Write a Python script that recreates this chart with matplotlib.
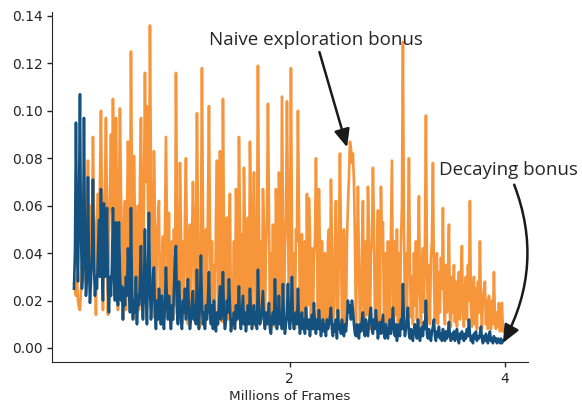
import numpy as np
import matplotlib.pyplot as plt

# per-step bonus, 430 logged points over 4M frames
naive_bonus = [
    0.027, 0.025, 0.022, 0.030, 0.020, 0.017, 0.016, 0.024, 0.035, 0.028,
    0.045, 0.038, 0.055, 0.042, 0.079, 0.050, 0.036, 0.060, 0.048, 0.089,
    0.058, 0.040, 0.014, 0.052, 0.065, 0.045, 0.070, 0.100, 0.062, 0.016,
    0.055, 0.068, 0.097, 0.060, 0.014, 0.048, 0.066, 0.090, 0.058, 0.105,
    0.070, 0.050, 0.097, 0.062, 0.016, 0.058, 0.101, 0.066, 0.045, 0.012,
    0.050, 0.062, 0.016, 0.055, 0.087, 0.060, 0.035, 0.125, 0.066, 0.013,
    0.081, 0.052, 0.012, 0.045, 0.060, 0.016, 0.070, 0.097, 0.055, 0.013,
    0.065, 0.116, 0.070, 0.102, 0.060, 0.035, 0.136, 0.072, 0.050, 0.013,
    0.083, 0.055, 0.012, 0.045, 0.052, 0.062, 0.018, 0.010, 0.038, 0.047,
    0.012, 0.050, 0.089, 0.055, 0.018, 0.057, 0.014, 0.010, 0.045, 0.012,
    0.050, 0.018, 0.116, 0.060, 0.016, 0.011, 0.078, 0.050, 0.010, 0.045,
    0.014, 0.055, 0.080, 0.040, 0.010, 0.042, 0.052, 0.012, 0.045, 0.070,
    0.050, 0.011, 0.042, 0.099, 0.058, 0.014, 0.009, 0.048, 0.118, 0.055,
    0.014, 0.009, 0.050, 0.018, 0.060, 0.102, 0.052, 0.011, 0.045, 0.010,
    0.035, 0.011, 0.055, 0.079, 0.040, 0.014, 0.083, 0.058, 0.011, 0.105,
    0.050, 0.009, 0.035, 0.055, 0.012, 0.048, 0.065, 0.014, 0.008, 0.018,
    0.045, 0.010, 0.067, 0.050, 0.018, 0.089, 0.055, 0.011, 0.048, 0.014,
    0.076, 0.050, 0.009, 0.045, 0.055, 0.014, 0.087, 0.058, 0.010, 0.040,
    0.074, 0.035, 0.009, 0.040, 0.119, 0.055, 0.010, 0.045, 0.014, 0.067,
    0.050, 0.011, 0.042, 0.055, 0.103, 0.060, 0.009, 0.040, 0.012, 0.052,
    0.018, 0.009, 0.067, 0.045, 0.011, 0.074, 0.050, 0.014, 0.106, 0.055,
    0.009, 0.042, 0.055, 0.104, 0.060, 0.012, 0.045, 0.118, 0.050, 0.010,
    0.040, 0.008, 0.050, 0.045, 0.100, 0.058, 0.009, 0.040, 0.048, 0.008,
    0.035, 0.045, 0.009, 0.065, 0.018, 0.063, 0.048, 0.009, 0.042, 0.008,
    0.038, 0.045, 0.080, 0.050, 0.011, 0.067, 0.040, 0.008, 0.045, 0.010,
    0.008, 0.040, 0.014, 0.009, 0.045, 0.050, 0.012, 0.071, 0.045, 0.008,
    0.018, 0.042, 0.062, 0.014, 0.008, 0.048, 0.082, 0.045, 0.010, 0.008,
    0.050, 0.018, 0.009, 0.045, 0.060, 0.072, 0.087, 0.084, 0.078, 0.082,
    0.070, 0.045, 0.009, 0.040, 0.068, 0.035, 0.010, 0.008, 0.042, 0.062,
    0.018, 0.008, 0.045, 0.014, 0.068, 0.050, 0.008, 0.040, 0.045, 0.076,
    0.050, 0.011, 0.008, 0.040, 0.058, 0.018, 0.008, 0.068, 0.045, 0.053,
    0.012, 0.008, 0.040, 0.010, 0.045, 0.007, 0.018, 0.048, 0.079, 0.018,
    0.009, 0.045, 0.014, 0.050, 0.008, 0.040, 0.011, 0.045, 0.060, 0.129,
    0.050, 0.015, 0.040, 0.011, 0.045, 0.080, 0.035, 0.013, 0.030, 0.010,
    0.040, 0.018, 0.045, 0.012, 0.038, 0.064, 0.025, 0.010, 0.030, 0.042,
    0.015, 0.045, 0.098, 0.035, 0.012, 0.035, 0.010, 0.038, 0.045, 0.078,
    0.030, 0.011, 0.030, 0.040, 0.010, 0.032, 0.015, 0.038, 0.025, 0.059,
    0.020, 0.010, 0.035, 0.015, 0.030, 0.052, 0.013, 0.009, 0.030, 0.015,
    0.035, 0.011, 0.028, 0.009, 0.025, 0.032, 0.012, 0.030, 0.043, 0.015,
    0.009, 0.025, 0.030, 0.012, 0.035, 0.020, 0.062, 0.018, 0.009, 0.022,
    0.030, 0.010, 0.025, 0.008, 0.028, 0.015, 0.045, 0.018, 0.008, 0.020,
    0.025, 0.028, 0.010, 0.020, 0.008, 0.022, 0.012, 0.008, 0.020, 0.010,
    0.032, 0.012, 0.008, 0.015, 0.009, 0.019, 0.007, 0.014, 0.019, 0.007,
]
decay_bonus = [
    0.025, 0.040, 0.095, 0.045, 0.028, 0.060, 0.107, 0.050, 0.025, 0.035,
    0.097, 0.045, 0.022, 0.030, 0.072, 0.035, 0.019, 0.028, 0.040, 0.071,
    0.035, 0.022, 0.030, 0.025, 0.040, 0.054, 0.030, 0.067, 0.035, 0.020,
    0.061, 0.030, 0.040, 0.059, 0.025, 0.015, 0.030, 0.022, 0.035, 0.059,
    0.030, 0.020, 0.053, 0.028, 0.018, 0.053, 0.032, 0.020, 0.026, 0.012,
    0.025, 0.018, 0.030, 0.022, 0.042, 0.028, 0.015, 0.059, 0.025, 0.012,
    0.020, 0.015, 0.030, 0.010, 0.022, 0.018, 0.028, 0.043, 0.020, 0.012,
    0.025, 0.050, 0.022, 0.010, 0.030, 0.057, 0.025, 0.012, 0.020, 0.031,
    0.034, 0.015, 0.008, 0.020, 0.012, 0.025, 0.018, 0.010, 0.022, 0.015,
    0.008, 0.018, 0.034, 0.020, 0.012, 0.022, 0.015, 0.008, 0.018, 0.012,
    0.025, 0.038, 0.043, 0.015, 0.010, 0.028, 0.018, 0.012, 0.008, 0.020,
    0.015, 0.025, 0.012, 0.018, 0.029, 0.015, 0.008, 0.012, 0.020, 0.024,
    0.012, 0.018, 0.010, 0.033, 0.015, 0.008, 0.020, 0.039, 0.018, 0.010,
    0.015, 0.008, 0.018, 0.012, 0.020, 0.032, 0.015, 0.010, 0.018, 0.008,
    0.020, 0.012, 0.007, 0.015, 0.010, 0.018, 0.026, 0.012, 0.015, 0.032,
    0.015, 0.008, 0.012, 0.020, 0.015, 0.029, 0.018, 0.007, 0.012, 0.010,
    0.015, 0.008, 0.018, 0.012, 0.015, 0.026, 0.012, 0.008, 0.015, 0.022,
    0.010, 0.015, 0.007, 0.012, 0.018, 0.010, 0.025, 0.015, 0.008, 0.012,
    0.018, 0.010, 0.015, 0.008, 0.033, 0.015, 0.010, 0.012, 0.018, 0.024,
    0.012, 0.008, 0.015, 0.010, 0.012, 0.019, 0.008, 0.006, 0.012, 0.015,
    0.010, 0.029, 0.015, 0.008, 0.012, 0.022, 0.010, 0.015, 0.008, 0.027,
    0.012, 0.006, 0.010, 0.015, 0.027, 0.012, 0.008, 0.015, 0.030, 0.012,
    0.008, 0.012, 0.015, 0.010, 0.025, 0.012, 0.006, 0.010, 0.015, 0.008,
    0.012, 0.006, 0.017, 0.010, 0.008, 0.012, 0.005, 0.010, 0.014, 0.008,
    0.019, 0.010, 0.006, 0.012, 0.008, 0.016, 0.010, 0.005, 0.008, 0.012,
    0.007, 0.010, 0.005, 0.012, 0.008, 0.010, 0.013, 0.017, 0.008, 0.005,
    0.010, 0.007, 0.012, 0.004, 0.016, 0.008, 0.010, 0.006, 0.012, 0.008,
    0.005, 0.010, 0.007, 0.012, 0.020, 0.015, 0.018, 0.012, 0.020, 0.016,
    0.010, 0.006, 0.005, 0.010, 0.008, 0.004, 0.010, 0.007, 0.012, 0.015,
    0.007, 0.005, 0.012, 0.008, 0.005, 0.010, 0.014, 0.017, 0.008, 0.006,
    0.012, 0.008, 0.016, 0.010, 0.004, 0.008, 0.011, 0.006, 0.010, 0.014,
    0.006, 0.004, 0.010, 0.007, 0.004, 0.008, 0.012, 0.006, 0.010, 0.017,
    0.008, 0.005, 0.010, 0.003, 0.007, 0.010, 0.005, 0.012, 0.008, 0.027,
    0.010, 0.005, 0.008, 0.012, 0.017, 0.006, 0.004, 0.008, 0.005, 0.003,
    0.008, 0.010, 0.006, 0.004, 0.012, 0.007, 0.003, 0.006, 0.009, 0.005,
    0.011, 0.008, 0.020, 0.006, 0.004, 0.008, 0.005, 0.003, 0.007, 0.009,
    0.012, 0.005, 0.003, 0.007, 0.005, 0.009, 0.004, 0.006, 0.003, 0.008,
    0.005, 0.003, 0.007, 0.004, 0.006, 0.011, 0.005, 0.003, 0.006, 0.004,
    0.007, 0.003, 0.005, 0.008, 0.004, 0.002, 0.006, 0.004, 0.007, 0.005,
    0.003, 0.006, 0.004, 0.008, 0.005, 0.012, 0.006, 0.003, 0.005, 0.002,
    0.006, 0.004, 0.007, 0.003, 0.005, 0.004, 0.006, 0.009, 0.004, 0.002,
    0.005, 0.003, 0.006, 0.004, 0.002, 0.005, 0.007, 0.003, 0.004, 0.002,
    0.005, 0.003, 0.004, 0.002, 0.004, 0.003, 0.002, 0.004, 0.002, 0.003,
]
frames = np.linspace(0, 3.98, len(naive_bonus))

orange = '#f7953b'
blue = '#15517e'
dark = '#262626'

fig = plt.figure(figsize=(5.82, 4.04), dpi=100)
ax = fig.add_axes([0.0893, 0.104, 0.818, 0.866])

ax.plot(frames, naive_bonus, color=orange, lw=1.9)
ax.plot(frames, decay_bonus, color=blue, lw=1.9)

ax.set_xlim(-0.204, 4.213)
ax.set_ylim(-0.0059, 0.1416)
ax.set_xticks([2, 4])
yt = np.arange(0, 0.141, 0.02)
ax.set_yticks(yt)
ax.set_yticklabels(['%.2f' % v for v in yt])
ax.tick_params(colors=dark, labelsize=10, length=3.5, width=1, pad=3.4)
ax.set_xlabel('Millions of Frames', color=dark, fontsize=9.7, labelpad=3.5)

for side in ('top', 'right'):
    ax.spines[side].set_visible(False)
for side in ('left', 'bottom'):
    ax.spines[side].set_color(dark)

head = '-|>,head_length=0.8,head_width=0.35'
ax.annotate('Naive exploration bonus', xy=(2.534, 0.0846), xytext=(2.246, 0.1297),
            ha='center', va='center', fontsize=13.5, family='Open Sans', color=dark,
            arrowprops=dict(arrowstyle=head, color='#1a1a1a', lw=1.8,
                            shrinkA=0, shrinkB=0))
ax.annotate('Decaying bonus', xy=(3.98, 0.0021), xytext=(4.028, 0.0749),
            ha='center', va='center', fontsize=13.5, family='Open Sans', color=dark,
            arrowprops=dict(arrowstyle=head, color='#1a1a1a', lw=1.8,
                            shrinkA=2, shrinkB=0,
                            connectionstyle='arc3,rad=-0.25'))

fig.savefig('out.png', dpi=100)
